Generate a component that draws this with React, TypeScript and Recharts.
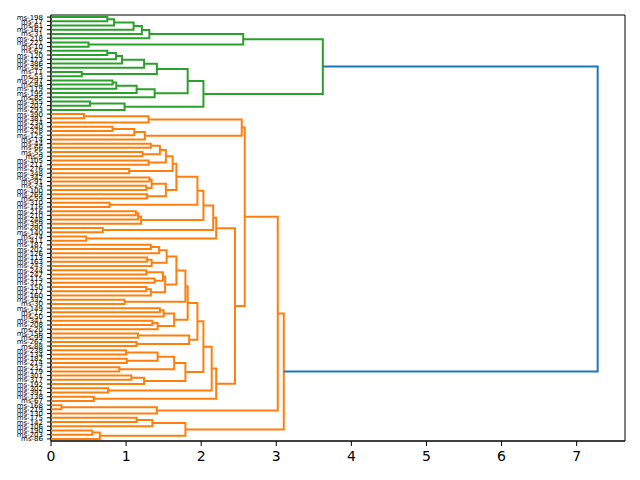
import { ReferenceArea, Scatter, ScatterChart, XAxis, YAxis } from "recharts"

const COR = {
  green: "#2ca02c",
  orange: "#ff7f0e",
  blue: "#1f77b4",
}

// leaves, top to bottom
const leafLabels = [
  "ms-198", "ms-17", "ms-61", "ms-167", "ms-31", "ms-218", "ms-221", "ms-10", "ms-62", "ms-120",
  "ms-173", "ms-386", "ms-345", "ms-11", "ms-53", "ms-297", "ms-84", "ms-119", "ms-199", "ms-85",
  "ms-355", "ms-207", "ms-293", "ms-390", "ms-381", "ms-234", "ms-240", "ms-328", "ms-125", "ms-14",
  "ms-44", "ms-66", "ms-55", "ms-9", "ms-105", "ms-211", "ms-276", "ms-348", "ms-342", "ms-91",
  "ms-24", "ms-100", "ms-269", "ms-59", "ms-310", "ms-116", "ms-216", "ms-210", "ms-248", "ms-359",
  "ms-280", "ms-140", "ms-74", "ms-411", "ms-187", "ms-202", "ms-126", "ms-113", "ms-163", "ms-243",
  "ms-244", "ms-247", "ms-115", "ms-312", "ms-150", "ms-217", "ms-160", "ms-332", "ms-30", "ms-149",
  "ms-12", "ms-50", "ms-341", "ms-208", "ms-20", "ms-156", "ms-99", "ms-262", "ms-88", "ms-238",
  "ms-134", "ms-182", "ms-214", "ms-232", "ms-179", "ms-301", "ms-317", "ms-192", "ms-302", "ms-391",
  "ms-138", "ms-67", "ms-168", "ms-219", "ms-130", "ms-175", "ms-142", "ms-106", "ms-190", "ms-203",
  "ms-86",
]

type Ref = number | string
type Merge = [string, Ref, Ref, number] // name, left, right, distance

const greenMerges: Merge[] = [
  ["c0", 0, 1, 0.75], ["c1", "c0", 2, 0.84], ["c2", "c1", 3, 1.1], ["c3", "c2", 4, 1.21],
  ["c4", "c3", 5, 1.31], ["c5", 6, 7, 0.5], ["c6", "c4", "c5", 2.56],
  ["g1", 8, 9, 0.75], ["g2", "g1", 10, 0.865], ["g3", "g2", 11, 0.945], ["g4", "g3", 12, 1.24],
  ["g5", 13, 14, 0.41], ["g6", "g4", "g5", 1.41],
  ["h1", 15, 16, 0.82], ["h2", "h1", 17, 0.87], ["h3", "h2", 18, 1.14], ["h4", "h3", 19, 1.38],
  ["gh", "g6", "h4", 1.82],
  ["k1", 20, 21, 0.52], ["k2", "k1", 22, 0.98], ["ghk", "gh", "k2", 2.03],
  ["green", "c6", "ghk", 3.62],
]

const orangeMerges: Merge[] = [
  ["o1", 23, 24, 0.44], ["o2", "o1", 25, 1.3], ["o3", 26, 27, 0.82], ["o4", "o3", 28, 1.11],
  ["o5", "o4", 29, 1.25], ["o6", "o2", "o5", 2.54],
  ["p1", 30, 31, 1.33], ["p2", 32, 33, 1.22], ["p3", "p1", "p2", 1.45], ["p4", 34, 35, 1.3],
  ["p5", "p3", "p4", 1.53], ["p6", 36, 37, 1.04], ["p7", "p5", "p6", 1.62], ["p8", 38, 39, 1.31],
  ["p9", 40, 41, 1.27], ["p10", "p8", "p9", 1.34], ["p11", 42, 43, 1.28], ["p12", "p10", "p11", 1.53],
  ["p13", "p7", "p12", 1.67], ["p14", 44, 45, 0.78], ["p15", "p13", "p14", 1.95], ["p16", 46, 47, 1.13],
  ["p17", "p16", 48, 1.16], ["p18", "p17", 49, 1.2], ["p19", "p15", "p18", 2.03], ["p20", 50, 51, 0.69],
  ["p21", "p19", "p20", 2.16], ["p22", 52, 53, 0.47], ["p23", "p21", "p22", 2.2],
  ["q1", 54, 55, 1.33], ["q2", "q1", 56, 1.44], ["q3", 57, 58, 1.28], ["q3b", "q3", 59, 1.34],
  ["q4", "q2", "q3b", 1.54], ["q5", 60, 61, 1.27], ["q6", 62, 63, 1.38], ["q7", "q5", "q6", 1.49],
  ["q8", 64, 65, 1.27], ["q9", "q8", 66, 1.33], ["q10", "q7", "q9", 1.52], ["q11", "q4", "q10", 1.67],
  ["q12", 67, 68, 0.98], ["q13", "q11", "q12", 1.79],
  ["x1", 69, 70, 1.45], ["x2", "x1", 71, 1.5], ["x3", 72, 73, 1.35], ["x4", "x3", 74, 1.42],
  ["x5", "x2", "x4", 1.64], ["x6", 75, 76, 1.16], ["x7", 77, 78, 1.14], ["x8", "x6", "x7", 1.84],
  ["qx", "q13", "x5", 1.82], ["qxx", "qx", "x8", 1.95],
  ["r1", 79, 80, 1.0], ["r2", 81, 82, 1.01], ["r3", "r1", "r2", 1.42], ["r4", 83, 84, 0.91],
  ["r5", "r3", "r4", 1.64], ["r6", 85, 86, 1.07], ["r7", "r6", 87, 1.24], ["r8", "r5", "r7", 1.79],
  ["s", "qxx", "r8", 2.03], ["s1", 88, 89, 0.76], ["t", "s", "s1", 2.14], ["t1", 90, 91, 0.57],
  ["u", "t", "t1", 2.2], ["v", "p23", "u", 2.45], ["w", "o6", "v", 2.58],
  ["y1", 92, 93, 0.14], ["y", "y1", 94, 1.41], ["x", "w", "y", 3.02],
  ["z1", 95, 96, 1.14], ["z2", "z1", 97, 1.35], ["z3", 98, 99, 0.55], ["z4", "z3", 100, 0.65],
  ["z", "z2", "z4", 1.79],
  ["orange", "x", "z", 3.1],
]

const rootMerges: Merge[] = [["root", "green", "orange", 7.28]]

const xTicks = [0, 1, 2, 3, 4, 5, 6, 7]

// scipy layout: leaf i sits at 10*i + 5, a cluster at the mean of its two children
const nodes = new Map<string, { x: number; y: number }>()
function node(r: Ref) {
  return typeof r === "number" ? { x: 0, y: 10 * r + 5 } : nodes.get(r)!
}
function links(merges: Merge[]) {
  return merges.map(([name, l, r, h]) => {
    const a = node(l)
    const b = node(r)
    nodes.set(name, { x: h, y: (a.y + b.y) / 2 })
    return [
      { x: a.x, y: a.y },
      { x: h, y: a.y },
      { x: h, y: b.y },
      { x: b.x, y: b.y },
    ]
  })
}

const series = [
  ...links(greenMerges).map((d) => ({ d, cor: COR.green })),
  ...links(orangeMerges).map((d) => ({ d, cor: COR.orange })),
  ...links(rootMerges).map((d) => ({ d, cor: COR.blue })),
]

const yMax = leafLabels.length * 10
const xMax = rootMerges[0][3] * 1.05
const yTicks = leafLabels.map((_, i) => 10 * i + 5)

const NoDot = () => <g />

export default function App() {
  return (
    <div style={{ position: "absolute", left: 0, top: 0, background: "#fff" }}>
      <ScatterChart
        width={640}
        height={480}
        margin={{ top: 15, right: 15, left: 0, bottom: 0 }}
        style={{ fontFamily: "DejaVu Sans, sans-serif" }}
      >
        <XAxis
          type="number"
          dataKey="x"
          domain={[0, xMax]}
          ticks={xTicks}
          height={39}
          tick={{ fill: "#000", fontSize: 14 }}
          tickSize={5}
          tickMargin={5}
          axisLine={{ stroke: "#000" }}
          tickLine={{ stroke: "#000" }}
        />
        <YAxis
          type="number"
          dataKey="y"
          domain={[0, yMax]}
          reversed
          ticks={yTicks}
          interval={0}
          width={51}
          tickFormatter={(v) => leafLabels[(Number(v) - 5) / 10]}
          tick={{ fill: "#000", fontSize: 7 }}
          tickSize={4}
          tickMargin={4}
          axisLine={{ stroke: "#000" }}
          tickLine={{ stroke: "#000" }}
        />
        <ReferenceArea x1={0} x2={xMax} y1={0} y2={yMax} fill="none" stroke="#000" strokeWidth={1} />
        {series.map((s, i) => (
          <Scatter
            key={i}
            data={s.d}
            fill={s.cor}
            line={{ stroke: s.cor, strokeWidth: 2 }}
            shape={NoDot}
            isAnimationActive={false}
          />
        ))}
      </ScatterChart>
    </div>
  )
}
